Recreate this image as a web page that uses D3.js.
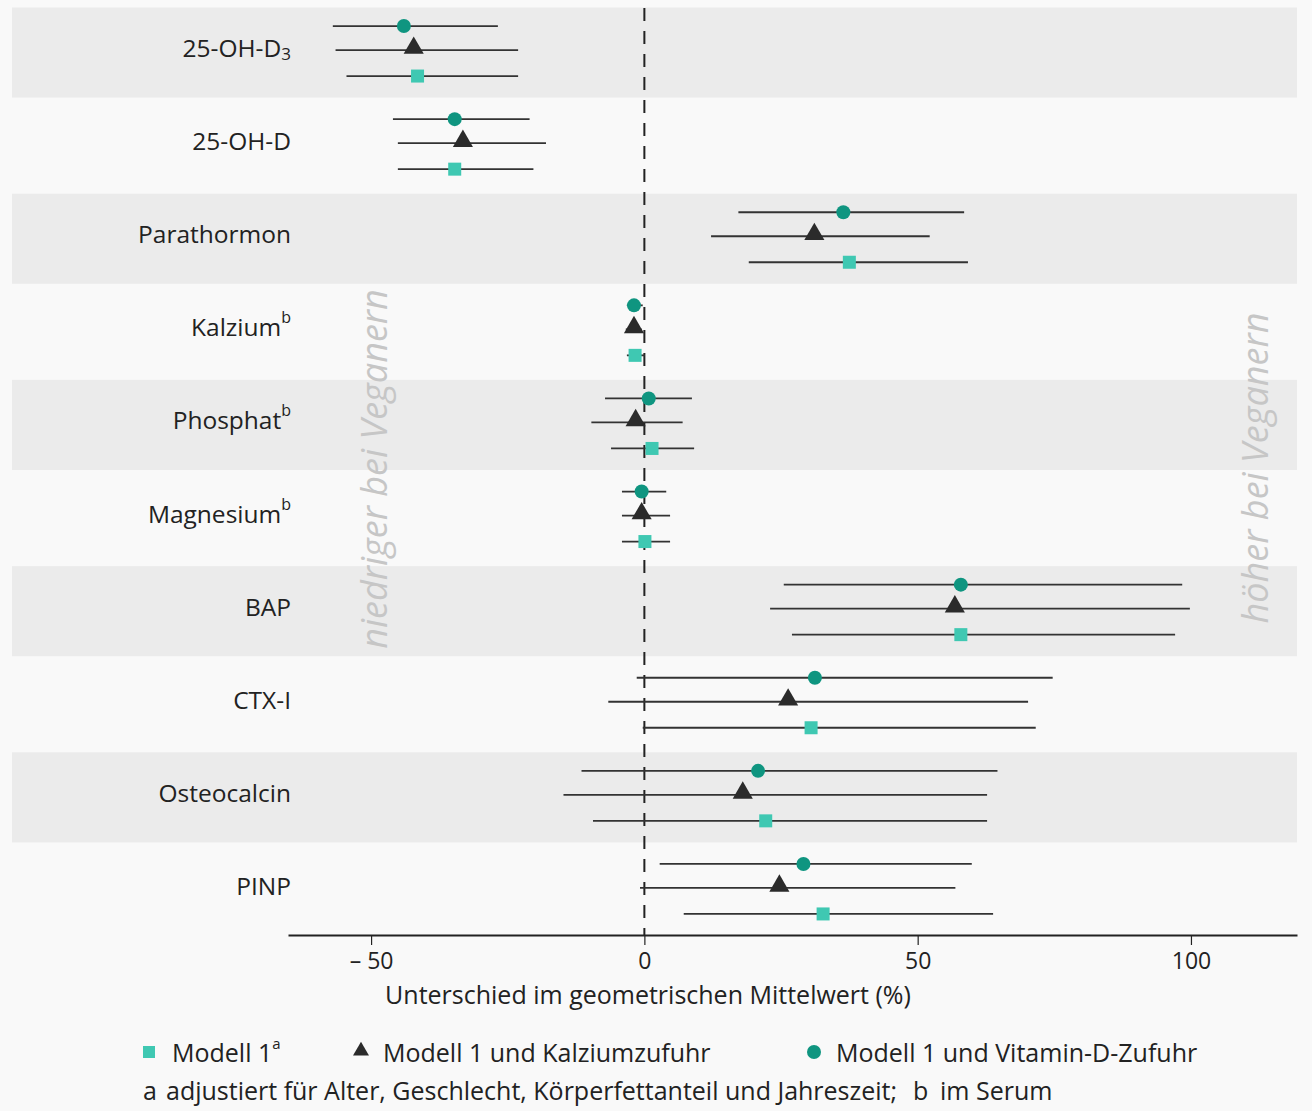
<!DOCTYPE html>
<html>
<head>
<meta charset="utf-8">
<script src="https://cdn.jsdelivr.net/npm/d3@7"></script>
<style>
  html, body { margin: 0; padding: 0; background: #f9f9f9; }
  svg { display: block; }
  text { font-family: "Open Sans", "Noto Sans", sans-serif; fill: #222; }
</style>
</head>
<body>
<svg id="chart" width="1312" height="1111"></svg>
<script>
// ---------- data ----------
const categories = ["25-OH-D3", "25-OH-D", "Parathormon", "Kalzium", "Phosphat", "Magnesium", "BAP", "CTX-I", "Osteocalcin", "PINP"];
const labelMain = ["25-OH-D", "25-OH-D", "Parathormon", "Kalzium", "Phosphat", "Magnesium", "BAP", "CTX-I", "Osteocalcin", "PINP"];
const labelSub  = ["3", "", "", "", "", "", "", "", "", ""];
const labelSup  = ["", "", "", "b", "b", "b", "", "", "", ""];

// Modell 1 (square)
const model1Est = [-41.5, -34.7, 37.5, -1.7,  1.4,  0.1, 57.9, 30.5, 22.2, 32.7];
const model1Lo  = [-54.5, -45.1, 19.1, -3.2, -6.1, -4.1, 27.0, -0.3, -9.4,  7.2];
const model1Hi  = [-23.1, -20.3, 59.2,  0.1,  9.1,  4.7, 97.1, 71.6, 62.7, 63.8];

// Modell 1 und Kalziumzufuhr (triangle)
const calcEst = [-42.2, -33.2, 31.1, -1.9, -1.6, -0.5, 56.8, 26.3, 18.0, 24.7];
const calcLo  = [-56.5, -45.1, 12.2, -3.4, -9.7, -4.1, 23.0, -6.6, -14.8, -0.8];
const calcHi  = [-23.1, -18.0, 52.2, -0.5,  7.0,  4.7, 99.8, 70.2, 62.7, 56.9];

// Modell 1 und Vitamin-D-Zufuhr (circle)
const vitdEst = [-44.0, -34.7, 36.4, -1.9,  0.8, -0.5, 57.9, 31.2, 20.8, 29.1];
const vitdLo  = [-57.0, -46.0, 17.2, -3.2, -7.2, -4.1, 25.5, -1.4, -11.5,  2.8];
const vitdHi  = [-26.8, -21.0, 58.5, -0.3,  8.7,  4.0, 98.4, 74.7, 64.6, 59.9];

const xTicks = [-50, 0, 50, 100];
const xTickLabels = ["\u2013 50", "0", "50", "100"];
const xTitle = "Unterschied im geometrischen Mittelwert (%)";
const legendLabels = ["Modell 1", "Modell 1 und Kalziumzufuhr", "Modell 1 und Vitamin-D-Zufuhr"];
const footnoteA = "adjustiert für Alter, Geschlecht, Körperfettanteil und Jahreszeit;";
const footnoteB = "im Serum";
const leftNote = "niedriger bei Veganern";
const rightNote = "höher bei Veganern";

// ---------- layout ----------
const svg = d3.select("#chart");
const colSquare = "#3fc8b2";
const colCircle = "#0f9580";
const colTri = "#2b2b2b";
const lineCol = "#333";
const fs = "25px";

const x = d3.scaleLinear().domain([-65.2, 119.4]).range([288, 1297]);
const y = d3.scaleBand().domain(categories).range([3.5, 934.5]);
const axisY = 935;
const mid = d => y(d) + y.bandwidth() / 2;

const series = [
  { key: "vitd", est: vitdEst, lo: vitdLo, hi: vitdHi, off: -24, shape: "circle" },
  { key: "calc", est: calcEst, lo: calcLo, hi: calcHi, off: 0, shape: "triangle" },
  { key: "m1",   est: model1Est, lo: model1Lo, hi: model1Hi, off: 26, shape: "square" }
];

// bands
svg.append("g").selectAll("rect")
  .data(categories.filter((d, i) => i % 2 === 0))
  .join("rect")
  .attr("x", 12)
  .attr("width", 1297 - 12)
  .attr("y", d => y(d) + 4)
  .attr("height", y.bandwidth() - 3)
  .attr("fill", "#ebebeb");

// side notes
[[leftNote, 373, 469], [rightNote, 1254, 468]].forEach(([t, tx, ty]) => {
  svg.append("text")
    .attr("transform", `translate(${tx},${ty}) rotate(-90)`)
    .attr("text-anchor", "middle")
    .attr("dominant-baseline", "central")
    .style("font-style", "italic")
    .style("font-size", "36px")
    .style("fill", "#c6c6c6")
    .text(t);
});

// zero line
svg.append("line")
  .attr("x1", x(0)).attr("x2", x(0))
  .attr("y1", 8).attr("y2", axisY)
  .attr("stroke", "#222").attr("stroke-width", 2)
  .attr("stroke-dasharray", "13,10");

// category labels
const labels = svg.append("g").selectAll("text")
  .data(categories)
  .join("text")
  .attr("x", 291)
  .attr("y", d => mid(d) - 3)
  .attr("text-anchor", "end")
  .attr("dominant-baseline", "central")
  .style("font-size", "24.5px");
labels.append("tspan").text((d, i) => labelMain[i]);
labels.filter((d, i) => labelSub[i] !== "")
  .append("tspan").attr("dy", 6).style("font-size", "17px").text(d => labelSub[categories.indexOf(d)]);
labels.filter((d, i) => labelSup[i] !== "")
  .append("tspan").attr("dy", -9).style("font-size", "16px").text(d => labelSup[categories.indexOf(d)]);

// CI lines & markers
const triPath = d3.symbol().type(d3.symbolTriangle).size(175);
series.forEach(s => {
  const g = svg.append("g");
  g.selectAll("line")
    .data(categories)
    .join("line")
    .attr("x1", (d, i) => x(s.lo[i]))
    .attr("x2", (d, i) => x(s.hi[i]))
    .attr("y1", d => mid(d) + s.off)
    .attr("y2", d => mid(d) + s.off)
    .attr("stroke", lineCol).attr("stroke-width", 1.8);
  if (s.shape === "circle") {
    g.selectAll("circle").data(categories).join("circle")
      .attr("cx", (d, i) => x(s.est[i]))
      .attr("cy", d => mid(d) + s.off)
      .attr("r", 7).attr("fill", colCircle);
  } else if (s.shape === "square") {
    g.selectAll("rect").data(categories).join("rect")
      .attr("x", (d, i) => x(s.est[i]) - 6.5)
      .attr("y", d => mid(d) + s.off - 6.5)
      .attr("width", 13).attr("height", 13).attr("fill", colSquare);
  } else {
    g.selectAll("path").data(categories).join("path")
      .attr("d", triPath)
      .attr("transform", (d, i) => `translate(${x(s.est[i])},${mid(d) + s.off - 2})`)
      .attr("fill", colTri);
  }
});

// axis
const axis = svg.append("g")
  .attr("transform", `translate(0,${axisY})`)
  .call(d3.axisBottom(x).tickValues(xTicks).tickFormat((d, i) => xTickLabels[i]).tickSize(10).tickSizeOuter(0).tickPadding(8));
axis.select(".domain").attr("stroke", "#222").attr("stroke-width", 2);
axis.selectAll(".tick line").attr("stroke", "#222").attr("stroke-width", 1.2);
axis.selectAll(".tick text").style("font-size", "23px").style("font-family", "Open Sans").attr("fill", "#222");

svg.append("text")
  .attr("x", 648).attr("y", 994)
  .attr("text-anchor", "middle").attr("dominant-baseline", "central")
  .style("font-size", fs)
  .text(xTitle);

// legend
const ly = 1052;
svg.append("rect").attr("x", 143).attr("y", ly - 6).attr("width", 12).attr("height", 12).attr("fill", colSquare);
const l1 = svg.append("text").attr("x", 172).attr("y", ly).attr("dominant-baseline", "central").style("font-size", fs);
l1.append("tspan").text(legendLabels[0]);
l1.append("tspan").attr("dy", -9).style("font-size", "15px").text("a");
svg.append("path").attr("d", d3.symbol().type(d3.symbolTriangle).size(110)).attr("transform", `translate(361,${ly - 1})`).attr("fill", colTri);
svg.append("text").attr("x", 383).attr("y", ly).attr("dominant-baseline", "central").style("font-size", fs).text(legendLabels[1]);
svg.append("circle").attr("cx", 814).attr("cy", ly).attr("r", 7).attr("fill", colCircle);
svg.append("text").attr("x", 836).attr("y", ly).attr("dominant-baseline", "central").style("font-size", fs).text(legendLabels[2]);

// footnote
const fy = 1090;
svg.append("text").attr("x", 143).attr("y", fy).attr("dominant-baseline", "central").style("font-size", fs).text("a");
svg.append("text").attr("x", 166).attr("y", fy).attr("dominant-baseline", "central").style("font-size", fs).text(footnoteA);
svg.append("text").attr("x", 913).attr("y", fy).attr("dominant-baseline", "central").style("font-size", fs).text("b");
svg.append("text").attr("x", 940).attr("y", fy).attr("dominant-baseline", "central").style("font-size", fs).text(footnoteB);
</script>
</body>
</html>
